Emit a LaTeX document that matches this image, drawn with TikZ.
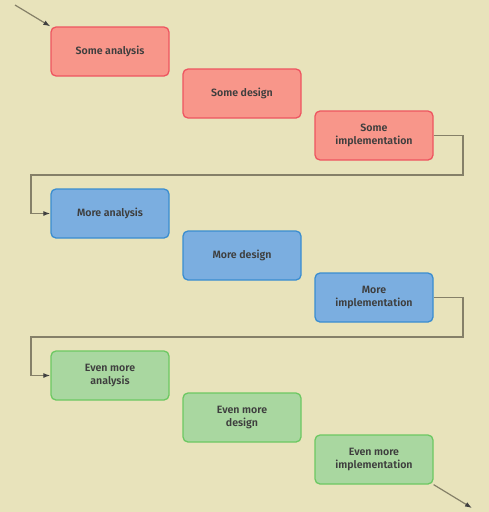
\documentclass[tikz,border=0pt]{standalone}
\usepackage{fontspec}
\setmainfont{Fira Sans}[BoldFont={Fira Sans SemiBold}]
\usepackage{xcolor}
\usetikzlibrary{arrows.meta,positioning,calc}
\definecolor{bgPaper}{HTML}{E8E3BB}
\definecolor{pRed}{HTML}{F8968A}
\definecolor{pRedLine}{HTML}{EE5560}
\definecolor{pBlue}{HTML}{7BAEE0}
\definecolor{pBlueLine}{HTML}{3A8DD0}
\definecolor{pGreen}{HTML}{A9D7A0}
\definecolor{pGreenLine}{HTML}{6CC862}
\definecolor{flowGray}{HTML}{858068}
\definecolor{txtGray}{HTML}{3E3E3E}

\begin{document}
\begin{tikzpicture}[x=1pt,y=1pt,
  >={Latex[length=7pt,width=5pt,color=black!75]},
  phase/.style={rounded corners=5pt,line width=1.3pt,minimum width=118pt,minimum height=49pt,
    align=center,text=txtGray,font=\fontsize{10.6}{13.8}\selectfont\bfseries,inner sep=2pt},
  first/.style={phase,draw=pRedLine,fill=pRed},
  second/.style={phase,draw=pBlueLine,fill=pBlue},
  third/.style={phase,draw=pGreenLine,fill=pGreen},
  flow/.style={->,draw=flowGray,line width=1.2pt}]
  \fill[bgPaper] (0,0) rectangle (489,-512);
  \useasboundingbox (0,0) rectangle (489,-512);
  % first pass
  \node[first] (sa) at (110,-51.5) {Some analysis};
  \node[first] (sd) at (242,-93.5) {Some design};
  \node[first] (si) at (374,-135.5) {Some\\implementation};
  % second pass
  \node[second] (ma) at (110,-213.5) {More analysis};
  \node[second] (md) at (242,-255.5) {More design};
  \node[second] (mi) at (374,-297.5) {More\\implementation};
  % third pass
  \node[third] (ea) at (110,-375.5) {Even more\\analysis};
  \node[third] (ed) at (242,-417.5) {Even more\\design};
  \node[third] (ei) at (374,-459.5) {Even more\\implementation};
  % loops back
  \coordinate (start) at (15,-5);
  \coordinate (r1) at (463,-175);
  \coordinate (l1) at (31,-175);
  \coordinate (r2) at (463,-337);
  \coordinate (l2) at (31,-337);
  \coordinate (stop) at (472,-508);
  \draw[flow] (start) -- (sa.north west);
  \draw[flow] (si.east) -| (r1) -- (l1) |- (ma.west);
  \draw[flow] (mi.east) -| (r2) -- (l2) |- (ea.west);
  \draw[flow] (ei.south east) -- (stop);
\end{tikzpicture}
\end{document}
